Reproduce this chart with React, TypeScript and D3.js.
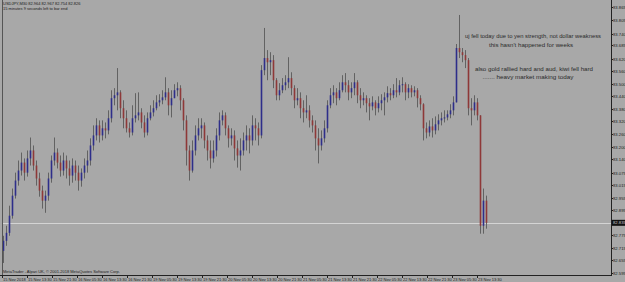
import React from "react";
import * as d3 from "d3";

const W = 625;
const H = 282;

const firstOpen = 82.701;
const closes = [
  82.749, 82.787, 82.869, 82.965, 83.037, 83.085, 83.123, 83.075, 83.143, 83.181,
  83.109, 83.047, 82.989, 82.941, 82.965, 83.047, 83.133, 83.171, 83.123, 83.085,
  83.133, 83.095, 83.061, 83.109, 83.075, 83.037, 83.075, 83.109, 83.133, 83.205,
  83.253, 83.301, 83.253, 83.287, 83.277, 83.335, 83.431, 83.445, 83.459, 83.383,
  83.335, 83.287, 83.267, 83.335, 83.349, 83.363, 83.315, 83.267, 83.335, 83.363,
  83.383, 83.411, 83.421, 83.435, 83.459, 83.397, 83.431, 83.469, 83.479, 83.421,
  83.325, 83.181, 83.085, 83.181, 83.253, 83.287, 83.301, 83.229, 83.181, 83.143,
  83.181, 83.253, 83.325, 83.349, 83.287, 83.239, 83.253, 83.191, 83.157, 83.181,
  83.229, 83.253, 83.229, 83.301, 83.287, 83.253, 83.565, 83.623, 83.603, 83.613,
  83.517, 83.445, 83.469, 83.493, 83.507, 83.527, 83.479, 83.421, 83.431, 83.383,
  83.363, 83.373, 83.325, 83.301, 83.239, 83.205, 83.239, 83.287, 83.397, 83.445,
  83.459, 83.431, 83.469, 83.507, 83.493, 83.459, 83.479, 83.507, 83.445, 83.421,
  83.431, 83.407, 83.392, 83.411, 83.383, 83.407, 83.421, 83.435, 83.455, 83.445,
  83.469, 83.459, 83.493, 83.498, 83.459, 83.479, 83.459, 83.469, 83.431, 83.402,
  83.287, 83.267, 83.296, 83.277, 83.306, 83.325, 83.335, 83.339, 83.354, 83.373,
  83.411, 83.671, 83.651, 83.637, 83.613, 83.383, 83.373, 83.411, 83.349, 82.821,
  82.941, 82.835,
];
const highs = [
  82.773, 82.821, 82.917, 82.999, 83.075, 83.133, 83.171, 83.143, 83.181, 83.243,
  83.205, 83.133, 83.075, 83.013, 82.989, 83.075, 83.157, 83.243, 83.191, 83.157,
  83.171, 83.157, 83.133, 83.143, 83.133, 83.109, 83.095, 83.143, 83.181, 83.239,
  83.301, 83.335, 83.325, 83.325, 83.315, 83.373, 83.469, 83.479, 83.575, 83.469,
  83.421, 83.373, 83.315, 83.397, 83.455, 83.459, 83.383, 83.349, 83.363, 83.397,
  83.421, 83.445, 83.450, 83.469, 83.531, 83.479, 83.469, 83.498, 83.507, 83.493,
  83.431, 83.349, 83.205, 83.229, 83.301, 83.335, 83.335, 83.315, 83.253, 83.229,
  83.229, 83.287, 83.363, 83.373, 83.363, 83.301, 83.287, 83.277, 83.229, 83.239,
  83.267, 83.301, 83.287, 83.349, 83.335, 83.315, 83.589, 83.767, 83.661, 83.651,
  83.637, 83.527, 83.503, 83.527, 83.541, 83.627, 83.555, 83.493, 83.479, 83.459,
  83.421, 83.445, 83.397, 83.349, 83.325, 83.287, 83.277, 83.325, 83.421, 83.479,
  83.493, 83.479, 83.507, 83.541, 83.551, 83.517, 83.507, 83.551, 83.517, 83.479,
  83.459, 83.445, 83.431, 83.440, 83.421, 83.440, 83.450, 83.459, 83.488, 83.479,
  83.498, 83.527, 83.517, 83.531, 83.507, 83.498, 83.493, 83.488, 83.479, 83.445,
  83.407, 83.315, 83.325, 83.335, 83.344, 83.354, 83.363, 83.373, 83.373, 83.402,
  83.440, 83.690, 83.829, 83.671, 83.661, 83.623, 83.431, 83.445, 83.431, 83.349,
  82.999, 82.965,
];
const lows = [
  82.643, 82.725, 82.773, 82.855, 82.951, 83.013, 83.061, 83.037, 83.056, 83.109,
  83.085, 83.013, 82.960, 82.903, 82.883, 82.941, 83.027, 83.109, 83.095, 83.056,
  83.061, 83.047, 83.013, 83.027, 83.037, 82.989, 83.008, 83.047, 83.075, 83.109,
  83.181, 83.229, 83.219, 83.229, 83.239, 83.258, 83.315, 83.397, 83.373, 83.335,
  83.287, 83.267, 83.243, 83.253, 83.315, 83.325, 83.287, 83.243, 83.253, 83.325,
  83.344, 83.373, 83.392, 83.402, 83.421, 83.349, 83.339, 83.431, 83.440, 83.373,
  83.277, 83.109, 83.037, 83.075, 83.157, 83.229, 83.239, 83.191, 83.133, 83.095,
  83.123, 83.152, 83.229, 83.301, 83.253, 83.195, 83.205, 83.133, 83.099, 83.085,
  83.157, 83.181, 83.167, 83.205, 83.229, 83.205, 83.239, 83.541, 83.517, 83.541,
  83.479, 83.421, 83.421, 83.455, 83.469, 83.479, 83.445, 83.383, 83.397, 83.335,
  83.315, 83.335, 83.291, 83.267, 83.181, 83.119, 83.181, 83.219, 83.267, 83.383,
  83.407, 83.397, 83.421, 83.459, 83.459, 83.421, 83.431, 83.445, 83.407, 83.383,
  83.397, 83.363, 83.325, 83.373, 83.349, 83.363, 83.373, 83.349, 83.411, 83.421,
  83.431, 83.435, 83.445, 83.459, 83.421, 83.431, 83.435, 83.440, 83.387, 83.373,
  83.229, 83.239, 83.248, 83.243, 83.258, 83.277, 83.301, 83.315, 83.325, 83.335,
  83.349, 83.411, 83.623, 83.603, 83.575, 83.349, 83.301, 83.349, 83.325, 82.783,
  82.783, 82.807,
];

const priceTicks = [
  83.865, 83.805, 83.740, 83.685, 83.620, 83.560, 83.500, 83.440, 83.380, 83.320,
  83.260, 83.200, 83.140, 83.075, 83.015, 82.955, 82.895, 82.775, 82.715, 82.655,
  82.595,
];
const bidPrice = 82.835;

const dateLabels = [
  "15 Nov 2018", "15 Nov 13:30", "15 Nov 21:30", "16 Nov 05:30", "16 Nov 13:30",
  "16 Nov 21:30", "19 Nov 05:30", "19 Nov 13:30", "19 Nov 21:30", "20 Nov 05:30",
  "20 Nov 13:30", "20 Nov 21:30", "21 Nov 05:30", "21 Nov 13:30", "21 Nov 21:30",
  "22 Nov 05:30", "22 Nov 13:30", "22 Nov 21:30", "23 Nov 05:30", "23 Nov 13:30",
];

const headerLines = [
  "USDJPY,M30  82.964 82.967 82.754 82.826",
  "15 minutes 9 seconds left to bar end",
];
const noteLines = [
  "uj fell today due to yen strength, not dollar weakness",
  "this hasn't happened for weeks",
  "also gold rallied hard and aud, kiwi fell hard",
  "....... heavy market making today",
];
const footer = "MetaTrader - Alpari UK, \u00a9 2001-2018 MetaQuotes Software Corp.";

export default function App() {
  const plotRight = 611;
  const plotBottom = 275;
  const y = d3.scaleLinear().domain([82.595, 83.805]).range([273, 20]);
  const x = d3.scaleLinear().domain([0, closes.length - 1]).range([3, 486]);
  const xl = d3.scaleLinear().domain([0, dateLabels.length - 1]).range([2, 477]);
  const font = "'Liberation Sans', Arial, sans-serif";

  const candles = closes.map((c, i) => ({
    o: i === 0 ? firstOpen : closes[i - 1],
    c,
    h: highs[i],
    l: lows[i],
  }));

  const noteY = [36, 44.5, 69, 77];
  const noteX = [533, 531, 534, 528];
  const noteW = [136, 84, 118, 91];

  return (
    <svg
      width={W}
      height={H}
      style={{ position: "absolute", left: 0, top: 0, background: "#a8a8a8" }}
      fontFamily={font}
    >
      <rect x={0} y={0} width={W} height={H} fill="#a8a8a8" />
      <line x1={2} x2={plotRight} y1={Math.round(y(bidPrice)) + 0.5} y2={Math.round(y(bidPrice)) + 0.5} stroke="#d4d4d4" strokeWidth={1} />
      {candles.map((d, i) => {
        const cx = Math.round(x(i));
        const up = d.c >= d.o;
        const top = y(Math.max(d.o, d.c));
        const bot = y(Math.min(d.o, d.c));
        return (
          <g key={i}>
            <line x1={cx + 0.5} x2={cx + 0.5} y1={y(d.h)} y2={y(d.l)} stroke="#626262" strokeWidth={1} />
            <rect
              x={cx - 0.3}
              y={top}
              width={1.6}
              height={Math.max(1, bot - top)}
              fill={up ? "#2e2e8a" : "#8e3838"}
            />
          </g>
        );
      })}
      <line x1={2.5} x2={2.5} y1={0} y2={plotBottom} stroke="#555" strokeWidth={1} />
      <line x1={plotRight + 0.5} x2={plotRight + 0.5} y1={0} y2={plotBottom} stroke="#222" strokeWidth={1} />
      <line x1={0} x2={plotRight + 1} y1={plotBottom + 0.5} y2={plotBottom + 0.5} stroke="#222" strokeWidth={1} />
      {priceTicks.map((p) => {
        const ty = Math.round(y(p));
        return (
          <g key={p}>
            <line x1={plotRight} x2={plotRight + 2} y1={ty + 0.5} y2={ty + 0.5} stroke="#222" />
            <text x={613} y={ty + 1.6} fontSize={4.2} fill="#1a1a1a">
              {p.toFixed(3)}
            </text>
          </g>
        );
      })}
      <rect x={plotRight + 1} y={y(bidPrice) - 3} width={13} height={6} fill="#111" />
      <text x={613} y={y(bidPrice) + 1.6} fontSize={4.2} fill="#c8c8c8">
        {bidPrice.toFixed(3)}
      </text>
      {dateLabels.map((t, k) => {
        const lx = Math.round(xl(k));
        return (
          <g key={t}>
            <line x1={lx + 0.5} x2={lx + 0.5} y1={plotBottom} y2={plotBottom + 3} stroke="#222" />
            <text x={lx + 1} y={280.5} fontSize={4} fill="#1a1a1a">
              {t}
            </text>
          </g>
        );
      })}
      {headerLines.map((t, k) => (
        <text key={k} x={3} y={5 + k * 5} fontSize={4} fill="#1a1a1a">
          {t}
        </text>
      ))}
      <text x={3} y={273} fontSize={4} fill="#1a1a1a">
        {footer}
      </text>
      {noteLines.map((t, k) => (
        <text
          key={k}
          x={noteX[k]}
          y={noteY[k] + 2}
          fontSize={5.8}
          fill="#2a2a2a"
          textAnchor="middle"
          textLength={noteW[k]}
          lengthAdjust="spacingAndGlyphs"
        >
          {t}
        </text>
      ))}
    </svg>
  );
}
